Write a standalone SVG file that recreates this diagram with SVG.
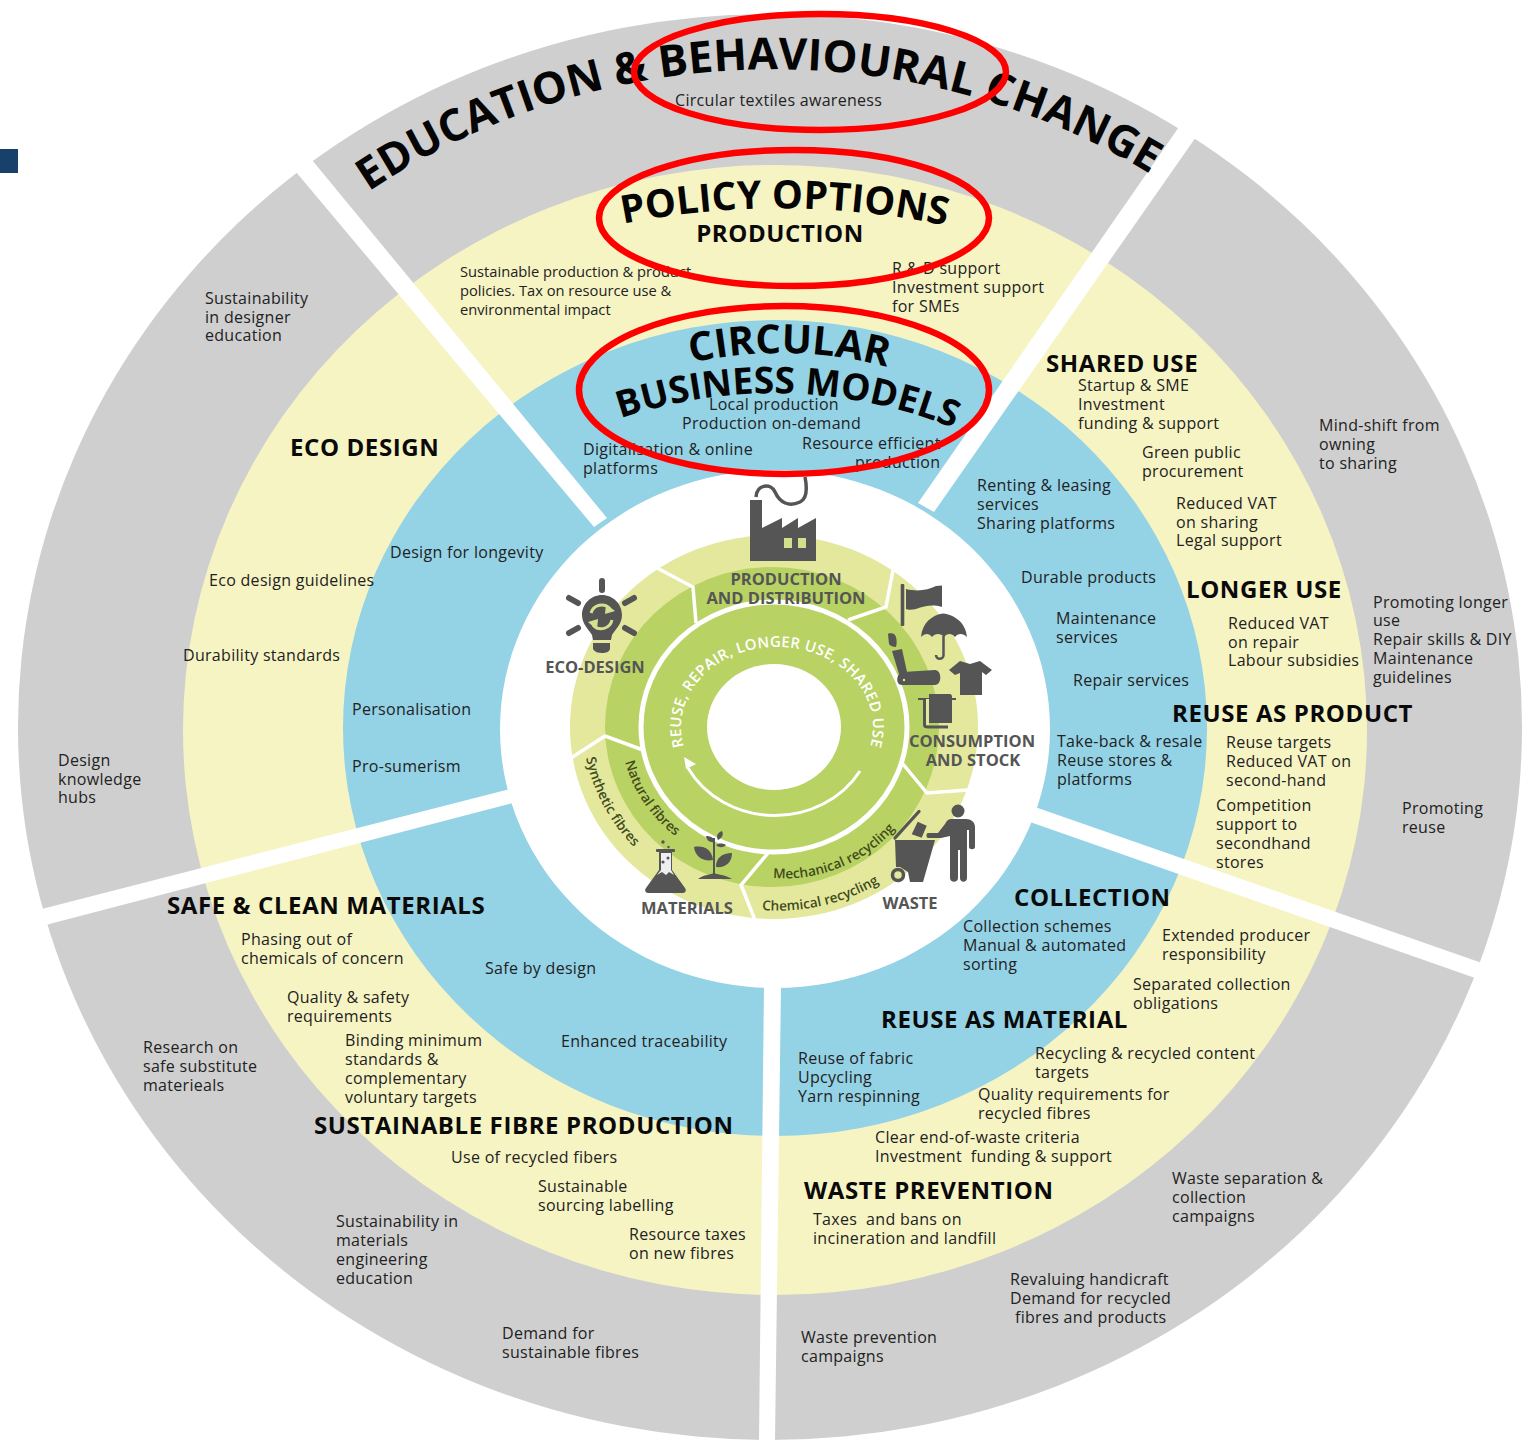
<svg xmlns="http://www.w3.org/2000/svg" width="1522" height="1440" viewBox="0 0 1522 1440">
<style>
text{font-family:"Open Sans","Liberation Sans",sans-serif;}
.t{font-size:16px;fill:#222;letter-spacing:.3px;}
.n{font-size:14.700px;fill:#222;}
.h{font-size:24px;font-weight:700;fill:#0a0a0a;letter-spacing:.6px;}
.big{font-weight:700;fill:#050505;}
.lab{font-size:16.5px;font-weight:700;fill:#555;}
.c{font-size:13.600px;font-weight:600;fill:#414b1c;}
.ic{fill:#555;}
.gap{fill:#fff;}
</style>
<defs>
<path id="pEdu" d="M340 212A700 665 0 0 1 1180 193"/>
<path id="pPol" d="M622 224A760 720 0 0 1 947 226"/>
<path id="pCir" d="M690 363A410 400 0 0 1 888 367"/>
<path id="pBus" d="M616 420A460 440 0 0 1 958 430"/>
<path id="pReuse" d="M690.700 762A96 80 0 1 1 863.300 762"/>
<path id="pNat" d="M625 762A140 140 0 0 0 678 838"/>
<path id="pSyn" d="M586 758A180 180 0 0 0 637 850"/>
<path id="pMec" d="M773 878A145 140 0 0 0 902 820"/>
<path id="pChe" d="M762 910A190 180 0 0 0 884 880"/>
</defs>
<rect x="0" y="149" width="18" height="24" fill="#17406a"/>
<g id="rings">
<ellipse cx="770" cy="727" rx="752" ry="713" fill="#cfcfcf"/>
<ellipse cx="775" cy="730" rx="592" ry="565" fill="#f7f4c4"/>
<ellipse cx="775" cy="728" rx="432" ry="408" fill="#94d2e6"/>
</g>
<g id="connectors">
<polygon class="gap" points="296,172 312,160 607,518 594,527"/>
<polygon class="gap" points="1181,124 1196,137 934,512 918,503"/>
<polygon class="gap" points="1035,807 1482,963 1478,979 1030,822"/>
<polygon class="gap" points="764,985 781,985 775,1440 759,1440"/>
<polygon class="gap" points="34,911 510,789 513,803 38,927"/>
</g>
<ellipse cx="775" cy="729" rx="275" ry="259" fill="#fff"/>
<g id="hub">
<ellipse cx="774" cy="727" rx="204" ry="192" fill="#e3e89d"/>
<ellipse cx="772" cy="727" rx="167" ry="160" fill="#b9d264"/>
<ellipse cx="774" cy="727" rx="133" ry="125" fill="#b9d264" stroke="#fff" stroke-width="5"/>
<ellipse cx="774" cy="727" rx="67" ry="63" fill="#fff"/>
<g fill="none" stroke="#fff" stroke-width="3.500">
<path d="M657 568L693 587L696 623"/>
<path d="M893 570L886 607L848 620"/>
<path d="M902 763L927 793L968 790"/>
<path d="M768 853L741 885L755 920"/>
<path d="M643 750L605 736L571 758"/>
<path d="M860 771A98.600 90 0 0 1 688 768" stroke-width="3"/>
</g>
<polygon points="684,757 696,764 686,769" fill="#fff"/>
<text font-size="15" font-weight="600" fill="#fff"><textPath href="#pReuse" startOffset="50%" text-anchor="middle" letter-spacing="0.35">REUSE, REPAIR, LONGER USE, SHARED USE</textPath></text>
<text class="c"><textPath href="#pNat">Natural fibres</textPath></text>
<text class="c"><textPath href="#pSyn">Synthetic fibres</textPath></text>
<text class="c"><textPath href="#pMec">Mechanical recycling</textPath></text>
<text class="c"><textPath href="#pChe">Chemical recycling</textPath></text>
<text class="lab" x="786" y="585" text-anchor="middle">PRODUCTION</text>
<text class="lab" x="786" y="604" text-anchor="middle">AND DISTRIBUTION</text>
<text class="lab" x="595" y="673" text-anchor="middle">ECO-DESIGN</text>
<text class="lab" x="972" y="747" text-anchor="middle">CONSUMPTION</text>
<text class="lab" x="973" y="766" text-anchor="middle">AND STOCK</text>
<text class="lab" x="687" y="914" text-anchor="middle">MATERIALS</text>
<text class="lab" x="910" y="909" text-anchor="middle">WASTE</text>
</g>
<g id="icons">
<g id="factory">
<path class="ic" d="M750 500H762V528L782 518V528L798 518V528L816 518V561H750Z"/>
<rect x="784" y="538" width="8" height="10" fill="#d3df8a"/><rect x="798" y="538" width="8" height="10" fill="#d3df8a"/>
<path d="M756 497C757 484 771 483 775 492C780 503 789 507 800 502C808 498 807 487 805 477" fill="none" stroke="#555" stroke-width="3.500"/>
</g>
<g id="bulb">
<path class="ic" d="M602 595C591 595 582 604 582 615C582 624 589 630 592 635L593 640H611L612 635C615 630 622 624 622 615C622 604 613 595 602 595ZM593 643H610V649C609 652 606 653 602 653C598 653 595 652 593 649Z"/>
<g fill="none" stroke="#d7e08f" stroke-width="3"><path d="M591 613A11 11 0 0 1 610 609"/><path d="M612 620A11 11 0 0 1 593 625"/></g>
<polygon points="606,604 615,611 605,614" fill="#d7e08f"/><polygon points="597,630 588,622 598,619" fill="#d7e08f"/>
<g stroke="#555" stroke-width="6" stroke-linecap="round"><path d="M602 581V590"/><path d="M569 598L578 603"/><path d="M634 598L625 603"/><path d="M569 633L578 628"/><path d="M634 633L625 628"/></g>
</g>
<g id="consumption">
<rect class="ic" x="900.700" y="584" width="3.600" height="42" rx="1"/>
<path class="ic" d="M906 589C918 592 928 590 936 586L942 585.500V607C932 604 925 606 916 609C912 610 908 610 906 609Z"/>
<path class="ic" d="M921 637C922 623 932 615 943 613.500C955 615 966 623 967 637C963 633 958 633 955 637C952 633 947 633 944 637C941 633 935 633 932 637C929 633 925 633 921 637Z"/>
<path d="M943.500 636V655C943.500 660 936 660 936 655" fill="none" stroke="#555" stroke-width="2.500"/>
<path class="ic" d="M888 634C888 633 894 633 895 635C897 638 897 644 896 647C893 647 890 646 889 644Z"/>
<polygon class="ic" points="892,651 902,649 907,672 899,674"/>
<path class="ic" d="M903 672L935 670C942 670 942 685 935 685H902C895 685 896 673 903 672Z"/>
<circle cx="904" cy="680" r="1.200" fill="#e3e89d"/>
<polygon class="ic" points="949,670 960,661 970,664 980,661 992,670 986,675 982,672 982,695 960,695 960,673 955,675"/>
<rect class="ic" x="918" y="698" width="38" height="2"/>
<rect x="926" y="699" width="3" height="26" fill="#e3e89d"/>
<path class="ic" d="M929 694H950C951 694 952 695 952 697V723H929Z"/>
<path d="M924.500 699V725C924.500 727 926 727 928 727H948" fill="none" stroke="#555" stroke-width="3"/>
</g>
<g id="waste">
<circle class="ic" cx="958" cy="811" r="6.500"/>
<path class="ic" d="M951 819H966C971 819 975 822 975 827V847C975 850 969 850 969 847V830H967V878C967 883 960 883 960 878V850H958V878C958 883 950 883 950 878V836L941 838H928C926 838 926 833 928 833H938L945 824C947 820 949 819 951 819Z"/>
<polygon class="ic" points="895,840 935,840 923,882 910,882 908,872 900,867 896,867"/>
<path d="M895 838L919 811.500" stroke="#555" stroke-width="3.300" stroke-linecap="round"/>
<polygon class="ic" points="917.700,821.700 926.700,825.700 921.700,837.700 911.700,834.300"/>
<circle cx="898" cy="875" r="5.500" fill="#e3e89d" stroke="#555" stroke-width="3.500"/>
</g>
<g id="materials">
<path class="ic" d="M659 851H672V870L685 888C687 891 685 893 682 893H649C646 893 644 891 646 888L659 870Z"/>
<rect class="ic" x="656" y="849" width="19" height="3" rx="1"/>
<circle cx="663" cy="842" r="1.700" fill="#555"/><circle cx="668.500" cy="847" r="1.200" fill="#555"/>
<polygon points="661,853 671,853 671,870 674,875 669,872 666,875 662,872 657,875 661,870" fill="#eee"/>
<circle cx="668" cy="858" r="1.500" fill="#555"/><circle cx="663" cy="862" r="1.600" fill="#555"/>
<path class="ic" d="M713 875V838H715V875Z"/>
<path class="ic" d="M698 879C703 875 709 875 714 873C719 875 726 875 732 879Z"/>
<path class="ic" d="M694 847C703 845 712 849 713 860C704 862 695 857 694 847ZM732 853C722 853 716 858 716 867C725 868 732 863 732 853ZM706 836C711 836 714 838 715 842C710 843 707 841 706 836ZM716 845C719 843 723 843 726 845C723 848 719 848 716 845ZM718 840C716 836 717 833 722 831C724 835 722 838 718 840Z"/>
</g>
</g>
<g id="titles">
<text class="big" font-size="44"><textPath href="#pEdu" startOffset="50%" text-anchor="middle">EDUCATION &amp; BEHAVIOURAL CHANGE</textPath></text>
<text class="big" font-size="39"><textPath href="#pPol" startOffset="50%" text-anchor="middle">POLICY OPTIONS</textPath></text>
<text class="big" font-size="40"><textPath href="#pCir" startOffset="50%" text-anchor="middle">CIRCULAR</textPath></text>
<text class="big" font-size="37"><textPath href="#pBus" startOffset="50%" text-anchor="middle">BUSINESS MODELS</textPath></text>
<text class="h" x="780" y="242" text-anchor="middle">PRODUCTION</text>
</g>
<g id="top-labels">
<text class="t" x="675" y="106">Circular textiles awareness</text>
<text class="n" x="460" y="277">Sustainable production &amp; product</text>
<text class="n" x="460" y="296">policies. Tax on resource use &amp;</text>
<text class="n" x="460" y="315">environmental impact</text>
<text class="t" x="892" y="274">R &amp; D support</text>
<text class="t" x="892" y="293">Investment support</text>
<text class="t" x="892" y="312">for SMEs</text>
<text class="t" x="709" y="410">Local production</text>
<text class="t" x="682" y="429">Production on-demand</text>
<text class="t" x="583" y="455">Digitalisation &amp; online</text>
<text class="t" x="583" y="474">platforms</text>
<text class="t" x="802" y="449">Resource efficient</text>
<text class="t" x="855" y="468">production</text>
</g>
<g id="shared-use">
<text class="h" x="1046" y="372">SHARED USE</text>
<text class="t" x="1078" y="391">Startup &amp; SME</text>
<text class="t" x="1078" y="410">Investment</text>
<text class="t" x="1078" y="429">funding &amp; support</text>
<text class="t" x="1142" y="458">Green public</text>
<text class="t" x="1142" y="477">procurement</text>
<text class="t" x="1176" y="509">Reduced VAT</text>
<text class="t" x="1176" y="528">on sharing</text>
<text class="t" x="1176" y="546">Legal support</text>
<text class="t" x="977" y="491">Renting &amp; leasing</text>
<text class="t" x="977" y="510">services</text>
<text class="t" x="977" y="529">Sharing platforms</text>
<text class="t" x="1319" y="431">Mind-shift from</text>
<text class="t" x="1319" y="450">owning</text>
<text class="t" x="1319" y="469">to sharing</text>
</g>
<g id="longer-use">
<text class="t" x="1021" y="583">Durable products</text>
<text class="t" x="1056" y="624">Maintenance</text>
<text class="t" x="1056" y="643">services</text>
<text class="t" x="1073" y="686">Repair services</text>
<text class="h" x="1186" y="598">LONGER USE</text>
<text class="t" x="1228" y="629">Reduced VAT</text>
<text class="t" x="1228" y="648">on repair</text>
<text class="t" x="1228" y="666">Labour subsidies</text>
<text class="t" x="1373" y="608">Promoting longer</text>
<text class="t" x="1373" y="626">use</text>
<text class="t" x="1373" y="645">Repair skills &amp; DIY</text>
<text class="t" x="1373" y="664">Maintenance</text>
<text class="t" x="1373" y="683">guidelines</text>
</g>
<g id="reuse-product">
<text class="h" x="1172" y="722">REUSE AS PRODUCT</text>
<text class="t" x="1226" y="748">Reuse targets</text>
<text class="t" x="1226" y="767">Reduced VAT on</text>
<text class="t" x="1226" y="786">second-hand</text>
<text class="t" x="1216" y="811">Competition</text>
<text class="t" x="1216" y="830">support to</text>
<text class="t" x="1216" y="849">secondhand</text>
<text class="t" x="1216" y="868">stores</text>
<text class="t" x="1402" y="814">Promoting</text>
<text class="t" x="1402" y="833">reuse</text>
<text class="t" x="1057" y="747">Take-back &amp; resale</text>
<text class="t" x="1057" y="766">Reuse stores &amp;</text>
<text class="t" x="1057" y="785">platforms</text>
</g>
<g id="collection">
<text class="h" x="1014" y="906">COLLECTION</text>
<text class="t" x="963" y="932">Collection schemes</text>
<text class="t" x="963" y="951">Manual &amp; automated</text>
<text class="t" x="963" y="970">sorting</text>
<text class="t" x="1162" y="941">Extended producer</text>
<text class="t" x="1162" y="960">responsibility</text>
<text class="t" x="1133" y="990">Separated collection</text>
<text class="t" x="1133" y="1009">obligations</text>
</g>
<g id="reuse-material">
<text class="h" x="881" y="1028">REUSE AS MATERIAL</text>
<text class="t" x="798" y="1064">Reuse of fabric</text>
<text class="t" x="798" y="1083">Upcycling</text>
<text class="t" x="798" y="1102">Yarn respinning</text>
<text class="t" x="1035" y="1059">Recycling &amp; recycled content</text>
<text class="t" x="1035" y="1078">targets</text>
<text class="t" x="978" y="1100">Quality requirements for</text>
<text class="t" x="978" y="1119">recycled fibres</text>
<text class="t" x="875" y="1143">Clear end-of-waste criteria</text>
<text class="t" x="875" y="1162" xml:space="preserve">Investment  funding &amp; support</text>
</g>
<g id="waste-prevention">
<text class="h" x="804" y="1199">WASTE PREVENTION</text>
<text class="t" x="813" y="1225" xml:space="preserve">Taxes  and bans on</text>
<text class="t" x="813" y="1244">incineration and landfill</text>
<text class="t" x="1172" y="1184">Waste separation &amp;</text>
<text class="t" x="1172" y="1203">collection</text>
<text class="t" x="1172" y="1222">campaigns</text>
<text class="t" x="1010" y="1285">Revaluing handicraft</text>
<text class="t" x="1010" y="1304">Demand for recycled</text>
<text class="t" x="1015" y="1323">fibres and products</text>
<text class="t" x="801" y="1343">Waste prevention</text>
<text class="t" x="801" y="1362">campaigns</text>
</g>
<g id="fibre-production">
<text class="h" x="314" y="1134">SUSTAINABLE FIBRE PRODUCTION</text>
<text class="t" x="451" y="1163">Use of recycled fibers</text>
<text class="t" x="538" y="1192">Sustainable</text>
<text class="t" x="538" y="1211">sourcing labelling</text>
<text class="t" x="629" y="1240">Resource taxes</text>
<text class="t" x="629" y="1259">on new fibres</text>
<text class="t" x="502" y="1339">Demand for</text>
<text class="t" x="502" y="1358">sustainable fibres</text>
<text class="t" x="336" y="1227">Sustainability in</text>
<text class="t" x="336" y="1246">materials</text>
<text class="t" x="336" y="1265">engineering</text>
<text class="t" x="336" y="1284">education</text>
</g>
<g id="safe-materials">
<text class="h" x="167" y="914">SAFE &amp; CLEAN MATERIALS</text>
<text class="t" x="241" y="945">Phasing out of</text>
<text class="t" x="241" y="964">chemicals of concern</text>
<text class="t" x="287" y="1003">Quality &amp; safety</text>
<text class="t" x="287" y="1022">requirements</text>
<text class="t" x="345" y="1046">Binding minimum</text>
<text class="t" x="345" y="1065">standards &amp;</text>
<text class="t" x="345" y="1084">complementary</text>
<text class="t" x="345" y="1103">voluntary targets</text>
<text class="t" x="143" y="1053">Research on</text>
<text class="t" x="143" y="1072">safe substitute</text>
<text class="t" x="143" y="1091">materieals</text>
<text class="t" x="485" y="974">Safe by design</text>
<text class="t" x="561" y="1047">Enhanced traceability</text>
</g>
<g id="eco-design">
<text class="h" x="290" y="456">ECO DESIGN</text>
<text class="t" x="205" y="304">Sustainability</text>
<text class="t" x="205" y="323">in designer</text>
<text class="t" x="205" y="341">education</text>
<text class="t" x="390" y="558">Design for longevity</text>
<text class="t" x="209" y="586">Eco design guidelines</text>
<text class="t" x="183" y="661">Durability standards</text>
<text class="t" x="352" y="715">Personalisation</text>
<text class="t" x="352" y="772">Pro-sumerism</text>
<text class="t" x="58" y="766">Design</text>
<text class="t" x="58" y="785">knowledge</text>
<text class="t" x="58" y="803">hubs</text>
</g>
<g id="highlights" fill="none" stroke="#f00" stroke-width="6.500">
<ellipse cx="820" cy="72" rx="186" ry="58"/>
<ellipse cx="794" cy="218" rx="195" ry="68"/>
<ellipse cx="784" cy="390" rx="205" ry="84"/>
</g>
</svg>
